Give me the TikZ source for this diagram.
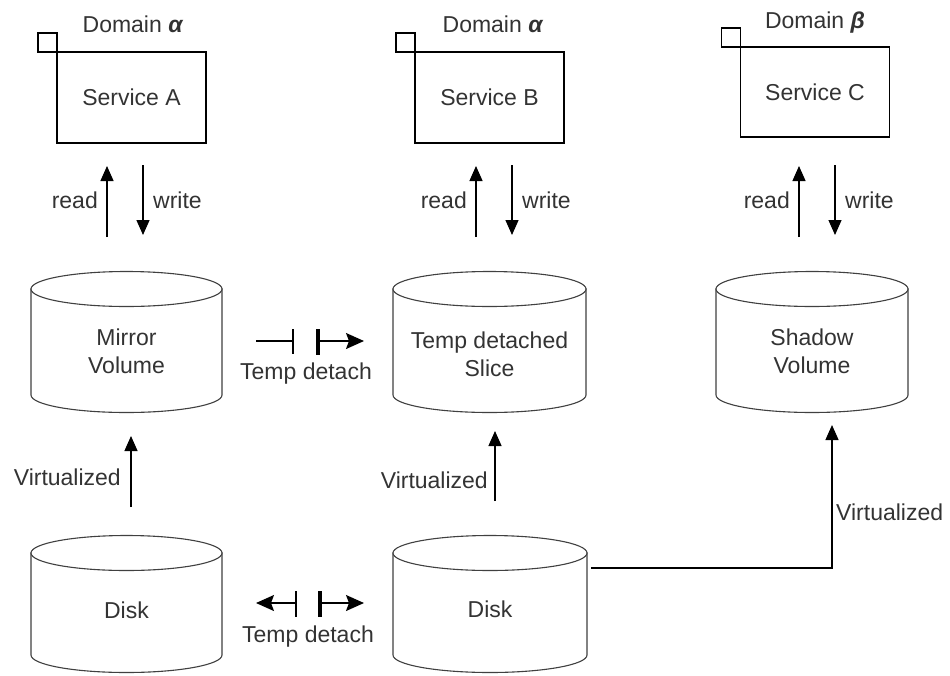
\documentclass[tikz,border=0pt]{standalone}
\usepackage{fontspec}
\setmainfont{Liberation Sans}
\usetikzlibrary{arrows.meta}
\definecolor{txt}{rgb}{0.2,0.2,0.2}
\definecolor{cyl}{rgb}{0.25,0.25,0.25}
\newcommand{\fs}{\fontsize{23}{28}\selectfont}
\newcommand{\al}{\textbf{\textit{α}}}
\newcommand{\be}{\textbf{\textit{β}}}
\tikzset{
  svcbox/.style={draw, line width=1.2pt, minimum width=149pt, minimum height=91pt, inner sep=0pt, outer sep=0pt, font=\fs, text=txt},
  sqbox/.style={draw, line width=1.2pt, minimum size=19pt, inner sep=0pt, outer sep=0pt, anchor=south east},
  lbl/.style={font=\fs, text=txt, inner sep=0pt, align=center},
  arr/.style={line width=1.3pt, -{Triangle[length=15pt,width=13pt]}},
  darr/.style={line width=1.3pt, -{Stealth[length=18pt,width=16pt,inset=3pt]}},
  plainline/.style={line width=1.3pt},
  cylline/.style={line width=1.1pt, draw=cyl, fill=white},
}
% \cyl{name}{cx}{ytop}{ybot}{rx}{text}{texty}
\newcommand{\cyl}[7]{%
  \path[cylline] ({#2-#5},#3) -- ({#2-#5},#4) arc[start angle=180, end angle=0, x radius=#5, y radius=17.5] -- ({#2+#5},#3) -- cycle;
  \draw[cylline] (#2,#3) ellipse [x radius=#5, y radius=17.5];
  \node[lbl] (#1) at (#2,#7) {#6};
}
\begin{document}
\begin{tikzpicture}[x=1pt,y=-1pt]
\useasboundingbox (0,0) rectangle (950,675);

% services
\node[svcbox] (svcA) at (131.5,97.5) {Service A};
\node[svcbox] (svcB) at (489.5,97.5) {Service B};
\node[svcbox, minimum height=90pt] (svcC) at (815,92) {Service C};
\node[sqbox] (sqA) at (svcA.north west) {};
\node[sqbox] (sqB) at (svcB.north west) {};
\node[sqbox] (sqC) at (svcC.north west) {};
\node[lbl] (domA) at (133,24) {Domain \al};
\node[lbl] (domB) at (493,24) {Domain \al};
\node[lbl] (domC) at (815,23) {Domain \be};

% cylinders
\cyl{mirror}{126.5}{289}{395}{95.5}{Mirror\\Volume}{351}
\cyl{slice}{489.5}{289}{395}{96.5}{Temp detached\\Slice}{354}
\cyl{shadow}{812}{289}{395}{96}{Shadow\\Volume}{351}
\cyl{diskA}{126.5}{553}{655}{95.5}{Disk}{610}
\cyl{diskB}{490}{553}{655}{97}{Disk}{609}

% read / write arrows
\foreach \n/\rx/\wx in {A/107/143, B/476/512, C/799/835}{
  \coordinate (r\n s) at (\rx,237);
  \coordinate (r\n e) at (\rx,166);
  \coordinate (w\n s) at (\wx,165);
  \coordinate (w\n e) at (\wx,235);
  \draw[arr] (r\n s) -- (r\n e);
  \draw[arr] (w\n s) -- (w\n e);
  \node[lbl, anchor=east] (read\n) at (\rx-9,200) {read};
  \node[lbl, anchor=west] (write\n) at (\wx+10,200) {write};
}

% virtualized
\coordinate (vAs) at (131,507); \coordinate (vAe) at (131,436);
\draw[arr] (vAs) -- (vAe);
\node[lbl, anchor=east] (virtA) at (121,477) {Virtualized};
\coordinate (vBs) at (495,501); \coordinate (vBe) at (495,431);
\draw[arr] (vBs) -- (vBe);
\node[lbl, anchor=east] (virtB) at (488,480) {Virtualized};
\coordinate (vCs) at (591,568); \coordinate (vCe) at (832,425);
\draw[arr] (vCs) -| (vCe);
\node[lbl, anchor=west] (virtC) at (836,512) {Virtualized};

% temp detach (top)
\coordinate (t1a) at (256,341); \coordinate (t1b) at (293,341);
\draw[plainline] (t1a) -- (t1b);
\draw[line width=1.6pt] (293,329) -- (293,354);
\draw[line width=3.5pt] (318,329) -- (318,355);
\coordinate (t1c) at (320,341); \coordinate (t1d) at (364,341);
\draw[darr] (t1c) -- (t1d);
\node[lbl] (td1) at (306,374) {Temp detach};

% temp detach (bottom)
\coordinate (t2a) at (296,603); \coordinate (t2b) at (256,603);
\draw[darr] (t2a) -- (t2b);
\draw[line width=1.6pt] (296,591) -- (296,617);
\draw[line width=3.5pt] (320,591) -- (320,617);
\coordinate (t2c) at (322,603); \coordinate (t2d) at (364,603);
\draw[darr] (t2c) -- (t2d);
\node[lbl] (td2) at (308,637) {Temp detach};
\end{tikzpicture}
\end{document}
